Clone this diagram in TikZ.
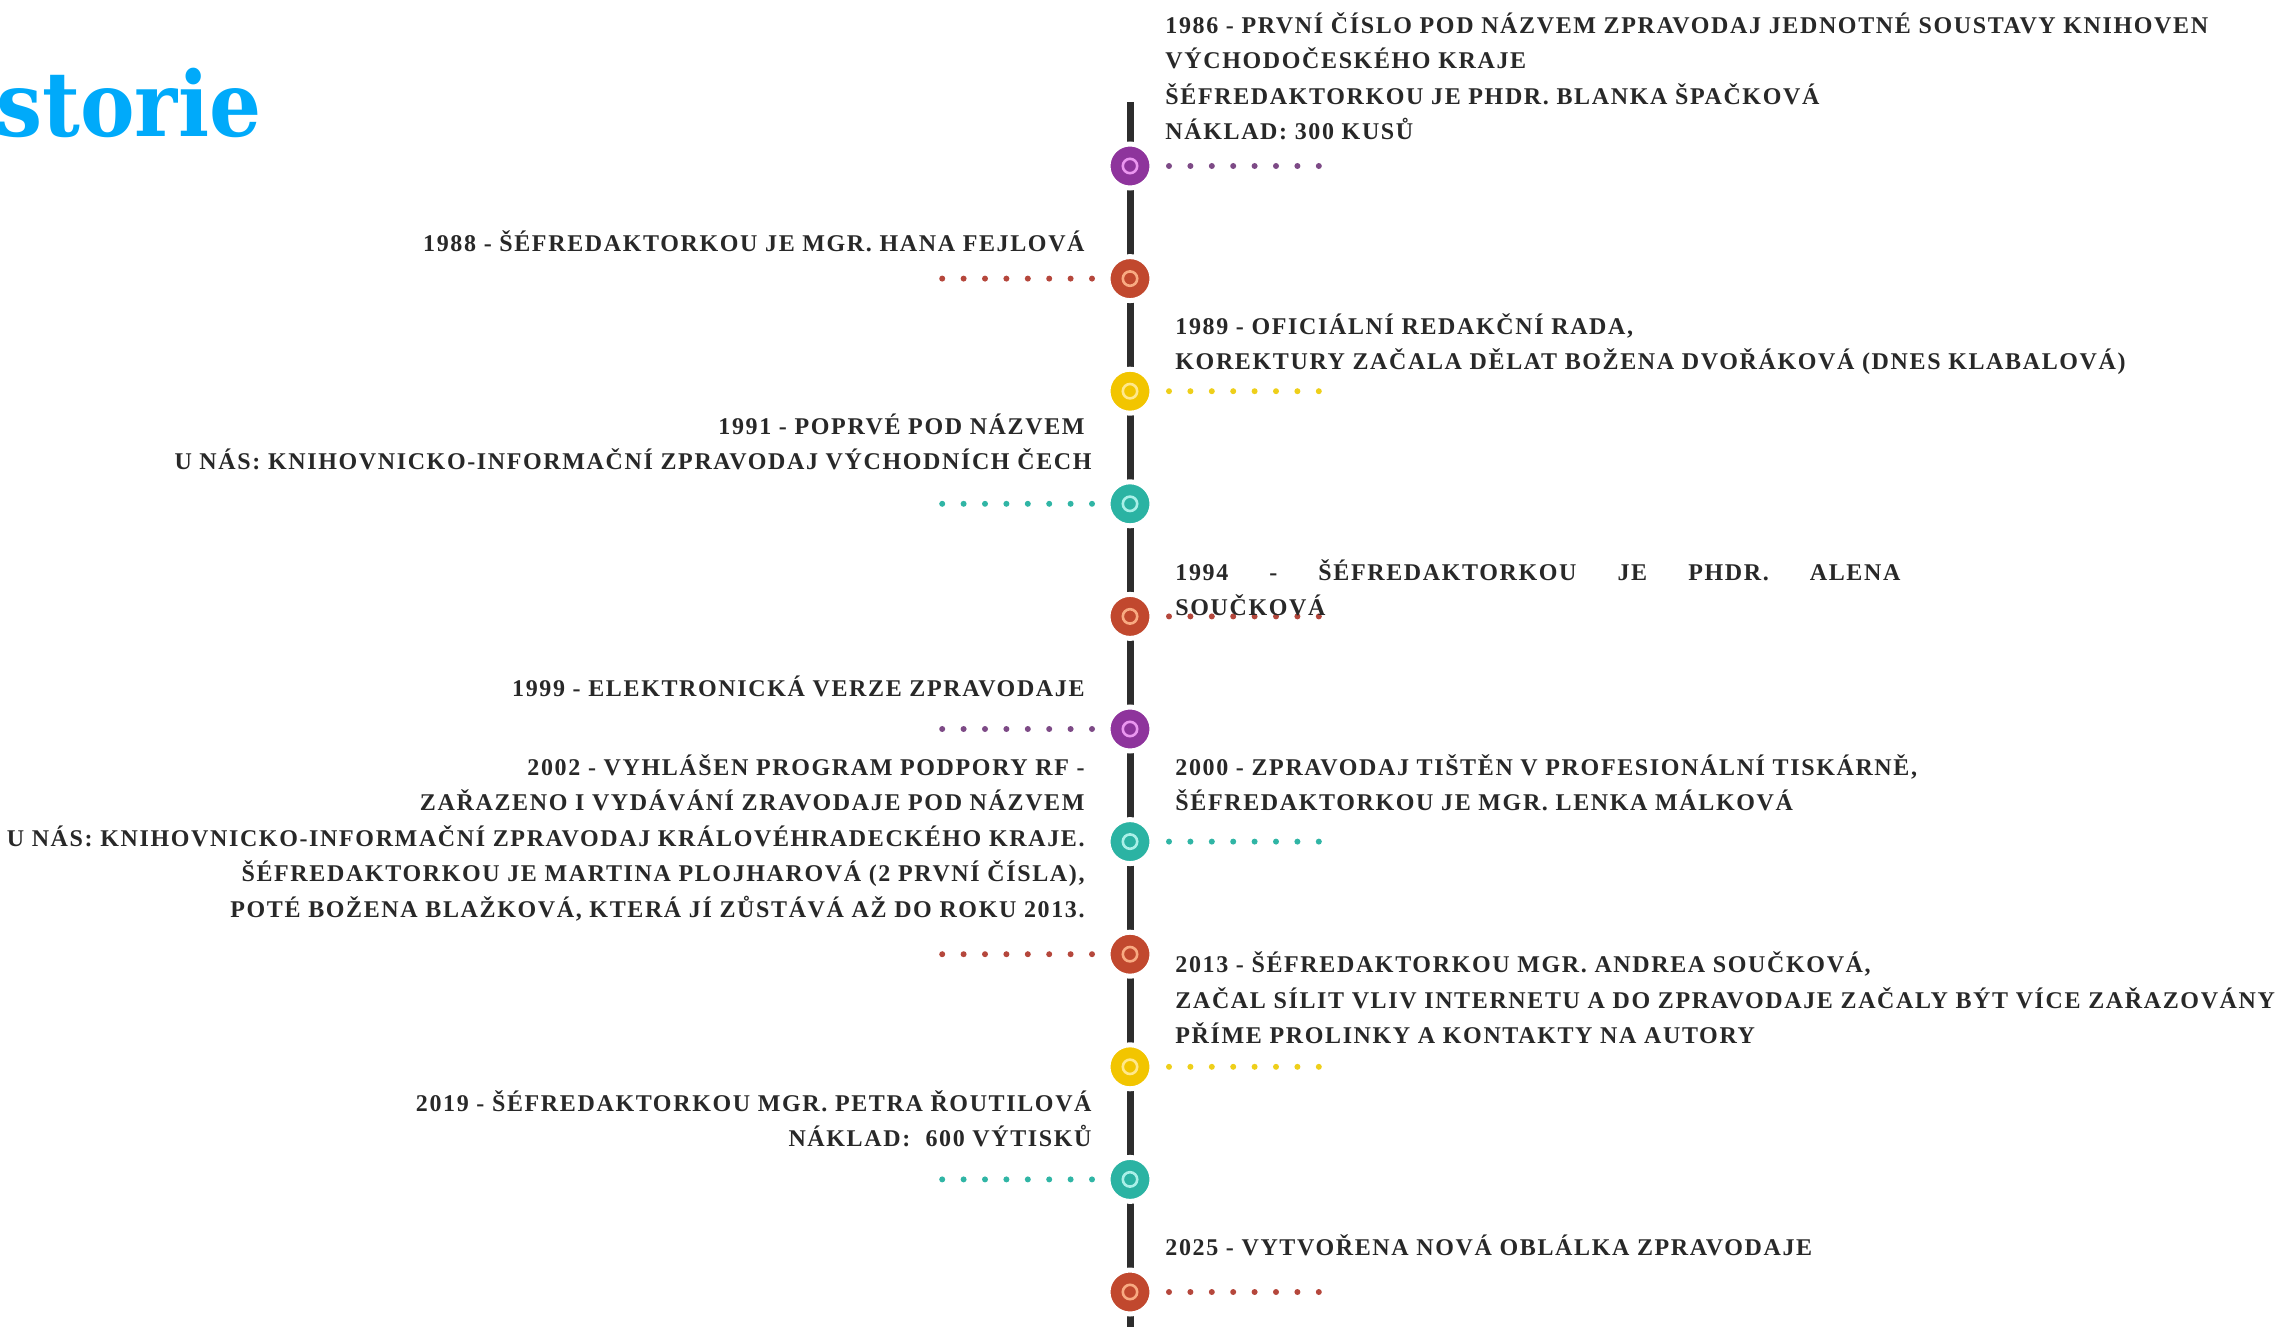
\documentclass[tikz,border=0pt]{standalone}
\usepackage{fontspec}
\usepackage{graphicx}
\newfontfamily\bodyfont[LetterSpace=6.8]{Liberation Serif}
\newfontfamily\headfont{DejaVu Serif}
\definecolor{headc}{RGB}{0,170,250}
\definecolor{textc}{RGB}{40,40,40}
\definecolor{linec}{RGB}{45,45,45}
\definecolor{purp}{RGB}{142,52,156}
\definecolor{purpL}{RGB}{235,150,240}
\definecolor{purpD}{RGB}{125,74,134}
\definecolor{redc}{RGB}{193,72,46}
\definecolor{redL}{RGB}{248,170,130}
\definecolor{redD}{RGB}{181,71,60}
\definecolor{yelc}{RGB}{242,197,0}
\definecolor{yelL}{RGB}{255,232,140}
\definecolor{yelD}{RGB}{238,207,26}
\definecolor{tealc}{RGB}{43,179,163}
\definecolor{tealL}{RGB}{170,240,232}
\definecolor{tealD}{RGB}{48,181,165}
\tikzset{
  evt/.style={circle, fill=#1, draw=white, line width=2.5pt, minimum size=22pt, inner sep=0pt},
  dots/.style={#1, line width=3pt, line cap=round, dash pattern=on 0pt off 10.7pt},
  txt/.style={font=\fontsize{12pt}{17.75pt}\selectfont\bodyfont\bfseries, inner sep=0pt, text=textc},
  rtxt/.style={txt, anchor=north west, align=left},
  ltxt/.style={txt, anchor=north east, align=right}
}
\begin{document}
\begin{tikzpicture}[x=0.5pt,y=-0.5pt]
\useasboundingbox (0,0) rectangle (2281,1327);
% heading
\node[anchor=base west, inner sep=0pt, text=headc, font=\fontsize{45pt}{50pt}\selectfont\headfont\bfseries] (head) at (-4,137) {\scalebox{0.91}[1]{storie}};
% timeline
\coordinate (top) at (1130,102);
\coordinate (bot) at (1130,1335);
\draw[linec, line width=3.5pt] (top) -- (bot);
% event circles
\foreach \i/\c/\l in {1/purp/purpL,2/redc/redL,3/yelc/yelL,4/tealc/tealL,5/redc/redL,6/purp/purpL,7/tealc/tealL,8/redc/redL,9/yelc/yelL,10/tealc/tealL,11/redc/redL}{
  \node[evt=\c] (c\i) at (1130,{166+112.6*(\i-1)}) {};
  \draw[\l, line width=1.3pt] (c\i.center) circle (3.6pt);
}
% dotted leaders
\foreach \i/\d in {1/purpD,3/yelD,5/redD,7/tealD,9/yelD,11/redD}{
  \coordinate (e\i) at ([xshift=94.5pt]c\i.center);
  \draw[dots=\d] ([xshift=19.5pt]c\i.center) -- (e\i);
}
\foreach \i/\d in {2/redD,4/tealD,6/purpD,8/redD,10/tealD}{
  \coordinate (e\i) at ([xshift=-94pt]c\i.center);
  \draw[dots=\d] ([xshift=-19pt]c\i.center) -- (e\i);
}
% texts
\node[rtxt] (t1) at (1165,7.85) {\strut 1986 - PRVNÍ ČÍSLO POD NÁZVEM ZPRAVODAJ JEDNOTNÉ SOUSTAVY KNIHOVEN\\VÝCHODOČESKÉHO KRAJE\\ŠÉFREDAKTORKOU JE PHDR. BLANKA ŠPAČKOVÁ\\NÁKLAD: 300 KUSŮ};
\node[ltxt] (t2) at (1085,226.15) {\strut 1988 - ŠÉFREDAKTORKOU JE MGR. HANA FEJLOVÁ};
\node[rtxt] (t3) at (1175,309.15) {\strut 1989 - OFICIÁLNÍ REDAKČNÍ RADA,\\KOREKTURY ZAČALA DĚLAT BOŽENA DVOŘÁKOVÁ (DNES KLABALOVÁ)};
\node[ltxt] (t4) at (1092,409.15) {\strut 1991 - POPRVÉ POD NÁZVEM\hspace*{3.5pt}\\U NÁS: KNIHOVNICKO-INFORMAČNÍ ZPRAVODAJ VÝCHODNÍCH ČECH};
\node[rtxt] (t5) at (1175,555.15) {\strut\makebox[362.5pt][s]{1994\hfill-\hfill ŠÉFREDAKTORKOU\hfill JE\hfill PHDR.\hfill ALENA}\\SOUČKOVÁ};
\node[ltxt] (t6) at (1085,671.15) {\strut 1999 - ELEKTRONICKÁ VERZE ZPRAVODAJE};
\node[rtxt] (t7) at (1175,750.15) {\strut 2000 - ZPRAVODAJ TIŠTĚN V PROFESIONÁLNÍ TISKÁRNĚ,\\ŠÉFREDAKTORKOU JE MGR. LENKA MÁLKOVÁ};
\node[ltxt] (t8) at (1085,750.15) {\strut 2002 - VYHLÁŠEN PROGRAM PODPORY RF -\\ZAŘAZENO I VYDÁVÁNÍ ZRAVODAJE POD NÁZVEM\\U NÁS: KNIHOVNICKO-INFORMAČNÍ ZPRAVODAJ KRÁLOVÉHRADECKÉHO KRAJE.\\ŠÉFREDAKTORKOU JE MARTINA PLOJHAROVÁ (2 PRVNÍ ČÍSLA),\\POTÉ BOŽENA BLAŽKOVÁ, KTERÁ JÍ ZŮSTÁVÁ AŽ DO ROKU 2013.};
\node[rtxt] (t9) at (1175,947.65) {\strut 2013 - ŠÉFREDAKTORKOU MGR. ANDREA SOUČKOVÁ,\\ZAČAL SÍLIT VLIV INTERNETU A DO ZPRAVODAJE ZAČALY BÝT VÍCE ZAŘAZOVÁNY\\PŘÍME PROLINKY A KONTAKTY NA AUTORY};
\node[ltxt] (t10) at (1092,1086.15) {\strut 2019 - ŠÉFREDAKTORKOU MGR. PETRA ŘOUTILOVÁ\\NÁKLAD:\ \ 600 VÝTISKŮ};
\node[rtxt] (t11) at (1165,1230.15) {\strut 2025 - VYTVOŘENA NOVÁ OBLÁLKA ZPRAVODAJE};
\end{tikzpicture}
\end{document}
